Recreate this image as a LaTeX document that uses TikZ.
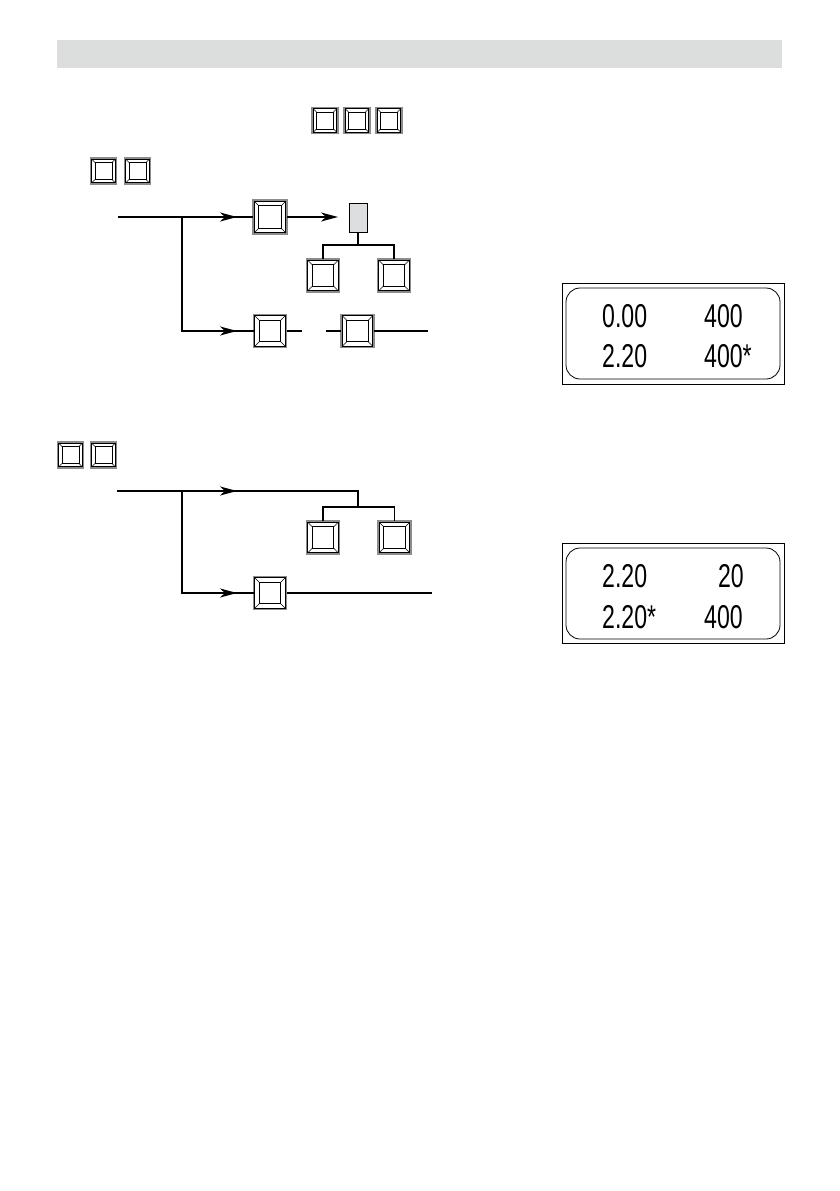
\documentclass[tikz,border=0pt]{standalone}
\usepackage{fontspec}
\usepackage{graphicx}
\usetikzlibrary{arrows.meta}
\newfontfamily\lcdfont{Liberation Sans}
\definecolor{barg}{HTML}{DCDDDD}
\definecolor{keyg}{HTML}{8C8C8C}
\definecolor{rectg}{HTML}{DCDEDF}
\newcommand\lcdtxt[1]{\scalebox{0.7}[1]{#1}}
% name, x, y, size, inset
\newcommand\kbox[5]{%
  \node[minimum width=#4pt, minimum height=#4pt, inner sep=0pt, outer sep=0pt] (#1) at (#2,#3) {};
  \draw[keyg, line width=1.5pt] (#1.south west) rectangle (#1.north east);
  \draw[black, line width=0.8pt] ([shift={(1.3pt,1.3pt)}]#1.south west) rectangle ([shift={(-1.3pt,-1.3pt)}]#1.north east);
  \draw[black, line width=0.9pt] ([shift={(#5pt,#5pt)}]#1.south west) rectangle ([shift={(-#5pt,-#5pt)}]#1.north east);
  \draw[black, line width=0.6pt] ([shift={(1.3pt,1.3pt)}]#1.south west) -- ([shift={(#5pt,#5pt)}]#1.south west);
  \draw[black, line width=0.6pt] ([shift={(-1.3pt,1.3pt)}]#1.south east) -- ([shift={(-#5pt,#5pt)}]#1.south east);
  \draw[black, line width=0.6pt] ([shift={(1.3pt,-1.3pt)}]#1.north west) -- ([shift={(#5pt,-#5pt)}]#1.north west);
  \draw[black, line width=0.6pt] ([shift={(-1.3pt,-1.3pt)}]#1.north east) -- ([shift={(-#5pt,-#5pt)}]#1.north east);
}
\begin{document}
\begin{tikzpicture}[x=1pt,y=-1pt,
  conn/.style={line width=1.3pt},
  arr/.style={conn,-{Stealth[length=17pt,width=9pt,inset=5pt]}},
  lcd/.style={font=\lcdfont\fontsize{33}{33}\selectfont, inner sep=0pt},
  outerdisp/.style={line width=1pt},
  innerdisp/.style={line width=0.8pt, rounded corners=14pt}]
\useasboundingbox (0,0) rectangle (839,1191);
\fill[barg] (57,40) rectangle (782,68);

% top key rows
\kbox{t1}{325}{120.5}{26}{4.5}
\kbox{t2}{357}{120.5}{26}{4.5}
\kbox{t3}{389}{120.5}{26}{4.5}
\kbox{u1}{103.5}{171}{26}{4.5}
\kbox{u2}{137.5}{171}{26}{4.5}

% diagram 1
\coordinate (s1) at (118,217);
\coordinate (j1) at (182,217);
\coordinate (j2) at (182,331);
\coordinate (a1) at (237,217);
\coordinate (a2) at (237,331);
\coordinate (g0) at (338,217);
\kbox{A1}{270}{217}{34}{5.8}
\node[draw, fill=rectg, line width=0.9pt, minimum width=18pt, minimum height=29pt, inner sep=0pt] (G) at (358,217.5) {};
\kbox{C1}{323}{275.5}{33}{5.6}
\kbox{C2}{394}{275.5}{33}{5.6}
\kbox{B1}{270}{331}{33}{5.6}
\kbox{B2}{357.5}{331}{33}{5.6}
\coordinate (g1) at (358,245);
\coordinate (g1l) at (323,245);
\coordinate (g1r) at (394,245);
\coordinate (b1e) at (302,331);
\coordinate (b2s) at (326,331);
\coordinate (b2e) at (428,331);

\draw[conn] (s1) -- (A1.west);
\draw[arr] (j1) -- (a1);
\draw[arr] (A1.east) -- (g0);
\draw[conn] (j1) -- (j2) -- (B1.west);
\draw[arr] (j2) -- (a2);
\draw[conn] (G.south) -- (g1);
\draw[conn] (C1.north) -- (g1l) -- (g1r) -- (C2.north);
\draw[conn] (B1.east) -- (b1e);
\draw[conn] (b2s) -- (B2.west);
\draw[conn] (B2.east) -- (b2e);

% display 1
\draw[outerdisp] (562,283) rectangle (784,384);
\draw[innerdisp] (566,288) rectangle (780,379);
\node[lcd, anchor=base west] (d1a) at (602,327) {\lcdtxt{0.00}};
\node[lcd, anchor=base west] (d1b) at (704,327) {\lcdtxt{400}};
\node[lcd, anchor=base west] (d1c) at (602,367) {\lcdtxt{2.20}};
\node[lcd, anchor=base west] (d1d) at (704,367) {\lcdtxt{400*}};

% diagram 2
\kbox{v1}{70.5}{455}{26}{4.5}
\kbox{v2}{103.5}{455}{26}{4.5}
\coordinate (s2) at (117,491);
\coordinate (k1) at (182,491);
\coordinate (k2) at (182,593);
\coordinate (c1) at (237,491);
\coordinate (c2) at (237,593);
\coordinate (m1) at (358,491);
\coordinate (m2) at (358,507);
\coordinate (m2l) at (323,507);
\coordinate (m2r) at (394.5,507);
\coordinate (ee) at (432,593);
\kbox{D1}{323}{537.5}{33}{5.6}
\kbox{D2}{394.5}{537.5}{33}{5.6}
\kbox{E1}{270}{593}{33}{5.6}
\draw[conn] (s2) -- (m1) -- (m2);
\draw[arr] (k1) -- (c1);
\draw[conn] (D1.north) -- (m2l) -- (m2r) -- (D2.north);
\draw[conn] (k1) -- (k2) -- (E1.west);
\draw[arr] (k2) -- (c2);
\draw[conn] (E1.east) -- (ee);

% display 2
\draw[outerdisp] (562,543) rectangle (784,643);
\draw[innerdisp] (566,548) rectangle (780,639);
\node[lcd, anchor=base west] (d2a) at (602,587) {\lcdtxt{2.20}};
\node[lcd, anchor=base east] (d2b) at (744,587) {\lcdtxt{20}};
\node[lcd, anchor=base west] (d2c) at (602,628) {\lcdtxt{2.20*}};
\node[lcd, anchor=base west] (d2d) at (704,628) {\lcdtxt{400}};
\end{tikzpicture}
\end{document}
